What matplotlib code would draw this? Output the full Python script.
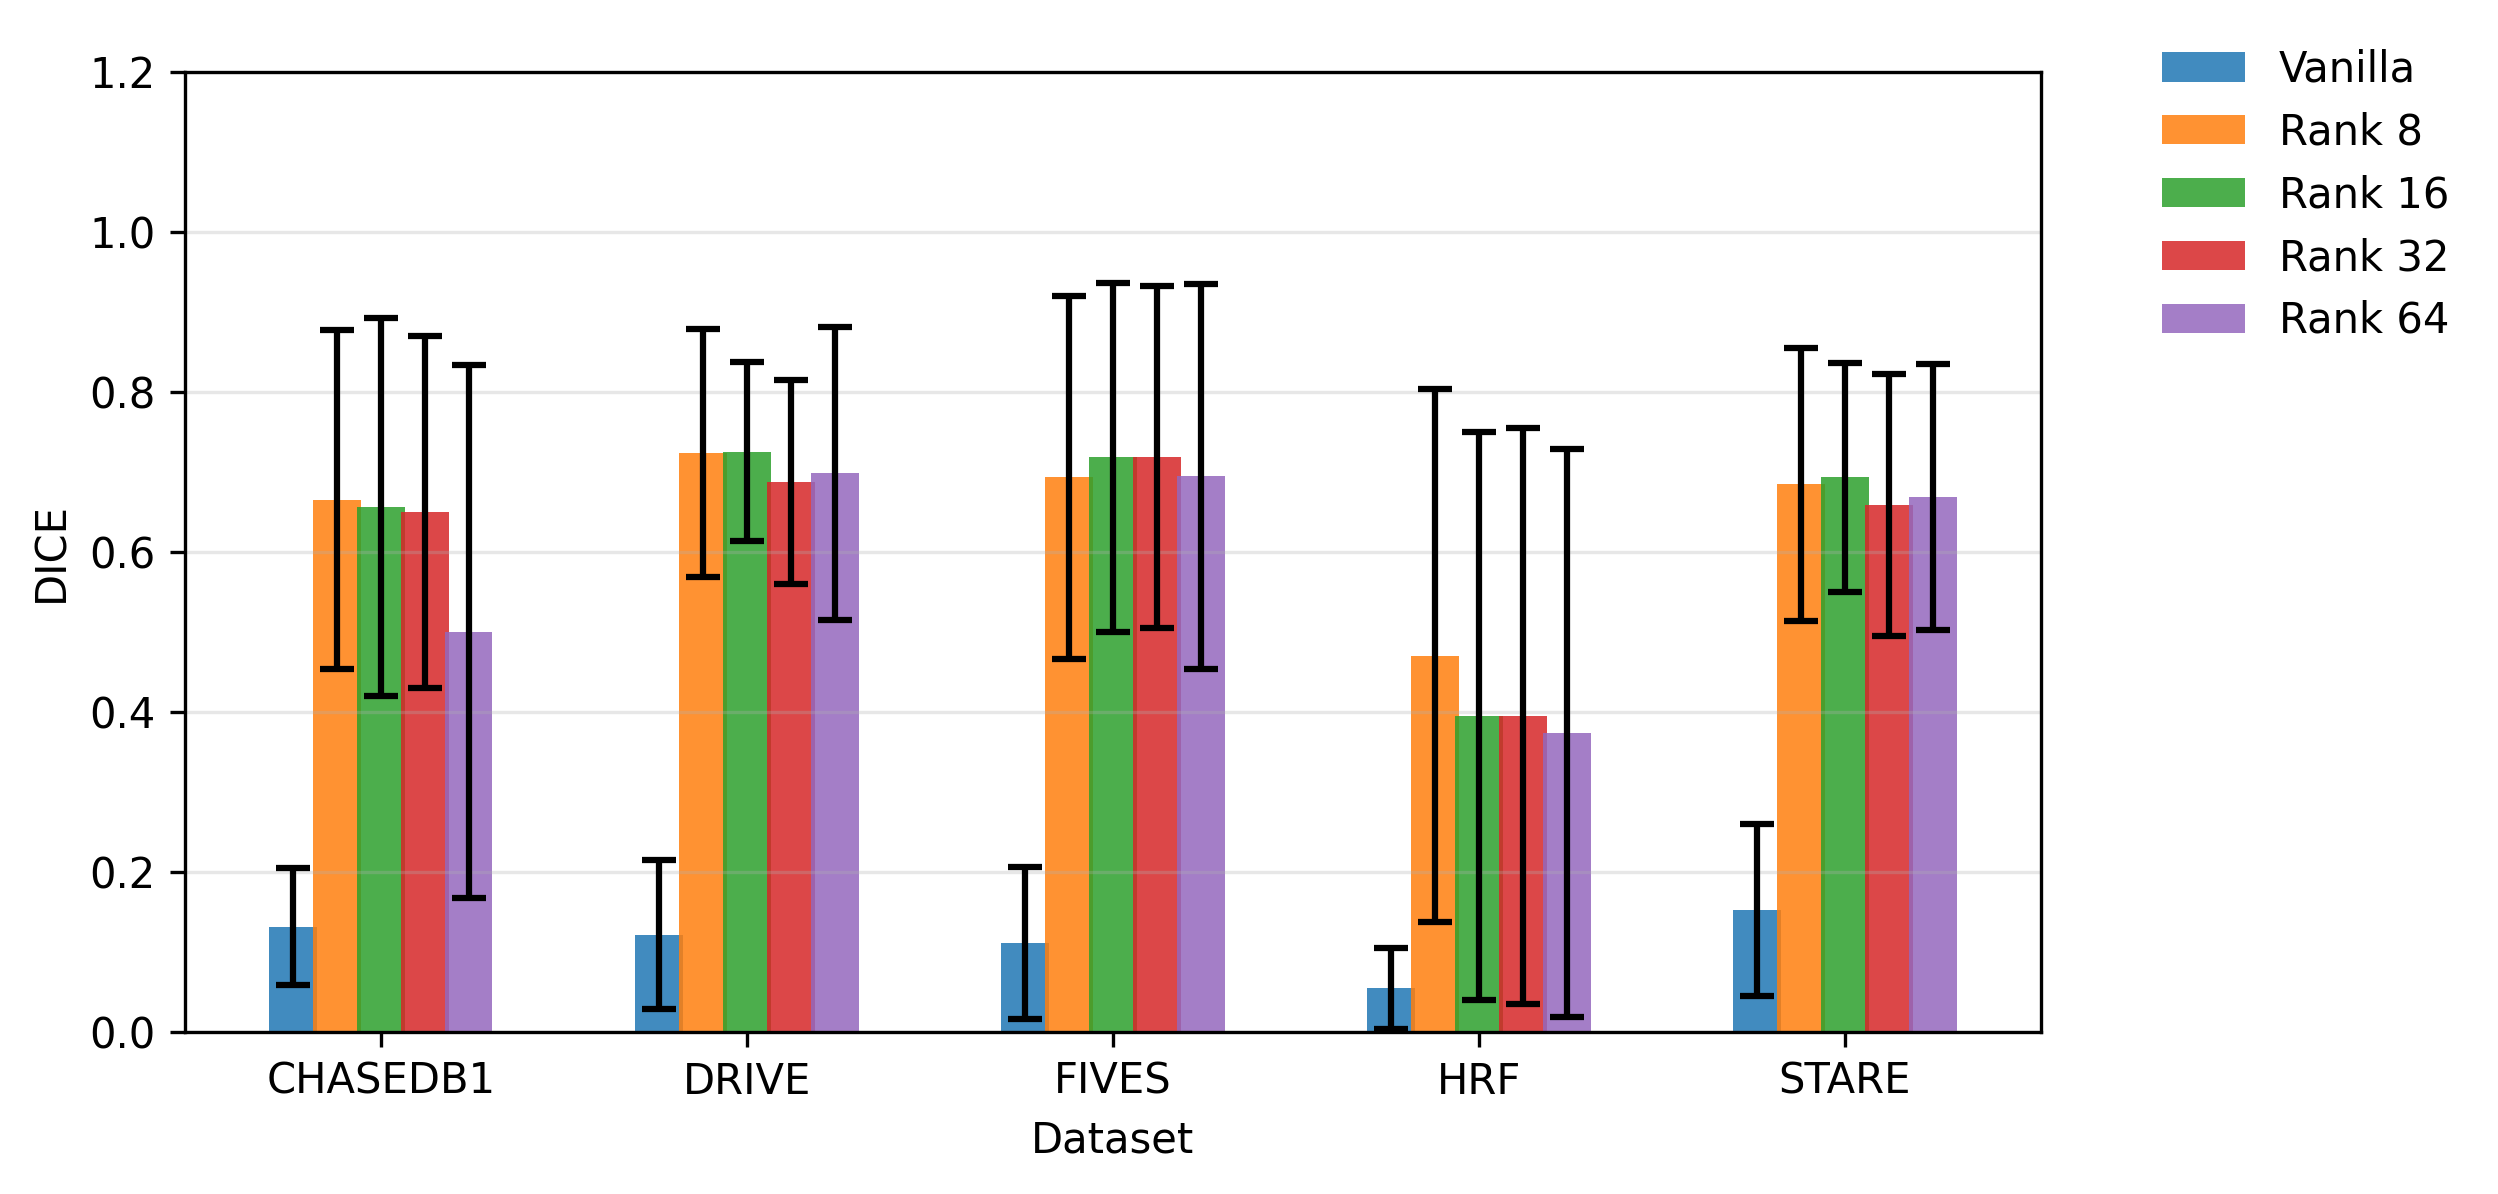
import matplotlib
matplotlib.use('Agg')
import matplotlib.pyplot as plt
import numpy as np

# Datasets and configurations
datasets = ['CHASEDB1', 'DRIVE', 'FIVES', 'HRF', 'STARE']
configs = ['Vanilla', 'Rank 8', 'Rank 16', 'Rank 32', 'Rank 64']

# Mean DICE per config (one value per dataset)
vanilla_mean = [0.131, 0.121, 0.111, 0.054, 0.152]
rank8_mean = [0.665, 0.723, 0.693, 0.470, 0.684]
rank16_mean = [0.656, 0.725, 0.718, 0.395, 0.693]
rank32_mean = [0.649, 0.687, 0.718, 0.394, 0.658]
rank64_mean = [0.500, 0.698, 0.694, 0.373, 0.668]

# Standard deviations
vanilla_std = [0.073, 0.093, 0.095, 0.051, 0.108]
rank8_std = [0.212, 0.155, 0.227, 0.333, 0.171]
rank16_std = [0.236, 0.112, 0.218, 0.355, 0.143]
rank32_std = [0.220, 0.127, 0.214, 0.360, 0.164]
rank64_std = [0.333, 0.183, 0.241, 0.355, 0.166]

means = [vanilla_mean, rank8_mean, rank16_mean, rank32_mean, rank64_mean]
stds = [vanilla_std, rank8_std, rank16_std, rank32_std, rank64_std]
colors = ['tab:blue', 'tab:orange', 'tab:green', 'tab:red', 'tab:purple']

fig, ax = plt.subplots(figsize=(8.327, 3.98), dpi=300)
plt.subplots_adjust(left=0.074, right=0.817, top=0.940, bottom=0.136)

x = np.arange(len(datasets))
step = 0.12
bar_w = 0.13
for i, (label, m, s) in enumerate(zip(configs, means, stds)):
    ax.bar(x + (i - 2) * step, m, bar_w, yerr=s, label=label, color=colors[i],
           alpha=0.85, capsize=4,
           error_kw=dict(ecolor='black', elinewidth=1.5, capthick=1.5))

ax.set_xticks(x)
ax.set_xticklabels(datasets)
ax.set_ylim(0, 1.2)
ax.set_xlabel('Dataset')
ax.set_ylabel('DICE')
ax.grid(axis='y', alpha=0.3)

ax.legend(loc='upper left', bbox_to_anchor=(1.045, 1.063), frameon=False)

plt.savefig('out.png', dpi=300)
